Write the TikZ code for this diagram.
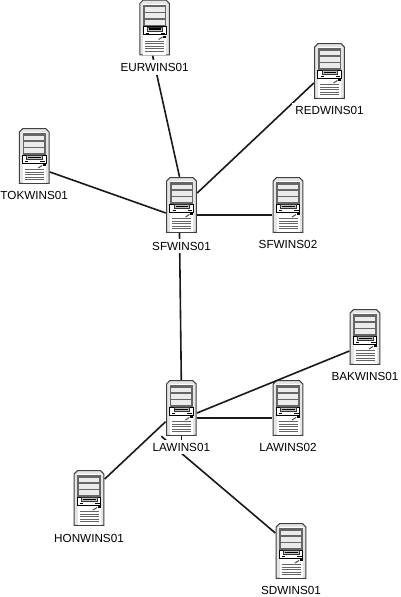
\documentclass[tikz,border=0pt]{standalone}
\usepackage{fontspec}
\setmainfont{Liberation Sans}
\usepackage{tikz}
\usetikzlibrary{positioning}
\tikzset{
  srvlabel/.style={fill=white,inner sep=3pt,font=\fontsize{11.7}{12}\selectfont},
  srvline/.style={line width=1.6pt,black!90},
  srv/.style={minimum width=31pt,minimum height=56pt,inner sep=0pt,
    path picture={
      \begin{scope}[shift={(path picture bounding box.center)},x=1pt,y=-1pt]
      \filldraw[draw=black!75,fill=black!10,line width=1pt] (-14.8,-24)--(-11.5,-27.4)--(11.5,-27.4)--(14.8,-24)--(14.8,27.4)--(-14.8,27.4)--cycle;
      \fill[white] (-11.5,-24) -- (11.5,-24) -- (11.5,27) -- (-11.5,27) -- cycle;
      \fill[black!60] (-11.7,-23) rectangle (11.7,-1);
      \fill[black!8] (-10,-20.5) rectangle (10,-16);
      \fill[black!8] (-10,-14.5) rectangle (10,-9.5);
      \fill[black!8] (-10,-8) rectangle (10,-3);
      \draw[fill=white,line width=.7pt] (-11.7,-1) rectangle (11.7,7);
      \draw[black!80,fill=black!25,line width=.6pt] (-7.5,-.5) rectangle (8,3.5);
      \fill[black] (-6,.8) rectangle (6.5,2.2);
      \fill[black] (-9,5) rectangle (-6,6);\fill[black] (6,5) rectangle (10.5,6);
      \draw[line width=1pt,black!70] (4,12)--(8,9.5);
      \fill[black] (8.5,8) rectangle (11.5,10);
      \foreach \vy in {13.5,16,18.5,21,23.5}
        \draw[black!60,line width=.8pt] (-9.5,\vy)--(9.5,\vy);
      \end{scope}
    }}
}
\begin{document}
\begin{tikzpicture}[x=1pt,y=-1pt]
\useasboundingbox[fill=white] (0,0) rectangle (400,597);
\node[srv] (eurwins) at (154.6,27.5) {};
\node[srv] (redwins) at (329.5,71) {};
\node[srv] (tokwins) at (34.2,156) {};
\node[srv] (sfwinsa) at (181.5,205) {};
\node[srv] (sfwinsb) at (288,205) {};
\node[srv] (bakwins) at (365,337) {};
\node[srv] (lawinsa) at (181.3,408) {};
\node[srv] (lawinsb) at (288,408) {};
\node[srv] (honwins) at (89,498) {};
\node[srv] (sdwins) at (291,551) {};
\draw[srvline] ([xshift=-2pt]eurwins.south) -- ([xshift=-2pt]sfwinsa.north);
\draw[srvline] ([yshift=-12pt]redwins.west) -- ([yshift=12pt]sfwinsa.east);
\draw[srvline] ([yshift=-16pt]tokwins.east) -- ([yshift=-8pt]sfwinsa.west);
\draw[srvline] ([yshift=-10pt]sfwinsa.east) -- ([yshift=-10pt]sfwinsb.west);
\draw[srvline] ([xshift=-2pt]sfwinsa.south) -- (lawinsa.north);
\draw[srvline] ([yshift=-14pt]bakwins.west) -- ([yshift=-5pt]lawinsa.east);
\draw[srvline] ([yshift=-10pt]lawinsa.east) -- ([yshift=-10pt]lawinsb.west);
\draw[srvline] ([yshift=19pt]honwins.east) -- ([yshift=-13.7pt]lawinsa.west);
\draw[srvline] (lawinsa.south) -- ++(0,6);
\draw[srvline] ([xshift=-20pt]lawinsa.south) -- ([yshift=18pt]sdwins.west);
\node[srvlabel,below=4.5pt of eurwins] (eurwinslbl) {EURWINS01};
\node[srvlabel,below=3.5pt of redwins] (redwinslbl) {REDWINS01};
\node[srvlabel,below=4pt of tokwins] (tokwinslbl) {TOKWINS01};
\node[srvlabel,below=5.5pt of sfwinsa] (sfwinsalbl) {SFWINS01};
\node[srvlabel,below=4pt of sfwinsb] (sfwinsblbl) {SFWINS02};
\node[srvlabel,below=3.5pt of bakwins] (bakwinslbl) {BAKWINS01};
\node[srvlabel,below=3.5pt of lawinsa] (lawinsalbl) {LAWINS01};
\node[srvlabel,below=3.5pt of lawinsb] (lawinsblbl) {LAWINS02};
\node[srvlabel,below=5pt of honwins] (honwinslbl) {HONWINS01};
\node[srvlabel,below=4pt of sdwins] (sdwinslbl) {SDWINS01};
\end{tikzpicture}
\end{document}
